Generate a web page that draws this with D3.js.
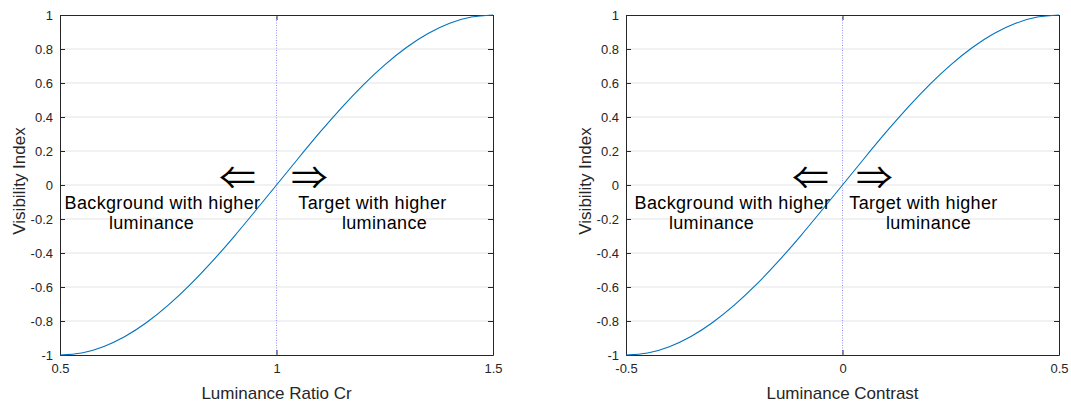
<!DOCTYPE html>
<html>
<head>
<meta charset="utf-8">
<script src="https://cdn.jsdelivr.net/npm/d3@7"></script>
<style>
	body { margin: 0; background: #fff; }
	svg { display: block; font-family: "Liberation Sans", Arial, sans-serif; }
	.tick text { fill: #262626; font-size: 13px; font-family: "Liberation Sans", Arial, sans-serif; }
	.axis path, .axis line { stroke: #262626; }
	.note { font-size: 18px; fill: #000; letter-spacing: 0.35px; }
	.arrow { font-size: 32px; fill: #000; font-family: "Noto Sans CJK JP", sans-serif; }
	.axis-label { font-size: 17px; fill: #262626; }
</style>
</head>
<body>
<svg width="1071" height="405"></svg>
<script>
// curve, 0.05 steps across the x range
const offsets = [-0.5, -0.45, -0.4, -0.35, -0.3, -0.25, -0.2, -0.15, -0.1, -0.05, 0,
	0.05, 0.1, 0.15, 0.2, 0.25, 0.3, 0.35, 0.4, 0.45, 0.5];
const visibility = [-1, -0.988, -0.951, -0.891, -0.809, -0.707, -0.588, -0.454, -0.309, -0.156, 0,
	0.156, 0.309, 0.454, 0.588, 0.707, 0.809, 0.891, 0.951, 0.988, 1];

const yTicks = [-1, -0.8, -0.6, -0.4, -0.2, 0, 0.2, 0.4, 0.6, 0.8, 1];
const leftTicks = [0.5, 1, 1.5];
const rightTicks = [-0.5, 0, 0.5];
const xLabels = ["Luminance Ratio Cr", "Luminance Contrast"];
const bgText = ["Background with higher", "luminance"];
const tgText = ["Target with higher", "luminance"];

// per panel layout: offsets of the notes from the divider line
const panels = [
	{ left: 60, centre: 1, xTicks: leftTicks, xLabel: xLabels[0],
		arrows: [-39, 33], bg: [-114, -125], tg: [96, 108] },
	{ left: 626, centre: 0, xTicks: rightTicks, xLabel: xLabels[1],
		arrows: [-32, 32], bg: [-110, -131], tg: [81, 86] }
];

const svg = d3.select("svg");
const width = 433, height = 340, marginTop = 15;

panels.forEach(p => {
	const data = offsets.map((o, k) => ({ x: p.centre + o, y: visibility[k] }));
	const x = d3.scaleLinear([p.centre - 0.5, p.centre + 0.5], [0, width]);
	const y = d3.scaleLinear([-1, 1], [height, 0]);

	const g = svg.append("g").attr("transform", `translate(${p.left},${marginTop})`);

	// grid
	g.append("g").selectAll("line")
		.data(yTicks.slice(1, -1))
		.join("line")
		.attr("x1", 0).attr("x2", width)
		.attr("y1", d => y(d)).attr("y2", d => y(d))
		.attr("stroke", "#e3e3e3");

	// dotted divider
	g.append("line")
		.attr("x1", x(p.centre)).attr("x2", x(p.centre))
		.attr("y1", 0).attr("y2", height)
		.attr("stroke", "#7b7bff")
		.attr("stroke-width", 0.8)
		.attr("stroke-dasharray", "1,1.5");

	const fmt = d => String(d);

	g.append("g").attr("class", "axis")
		.attr("transform", `translate(0,${height})`)
		.call(d3.axisBottom(x).tickValues(p.xTicks).tickSize(-5).tickPadding(9).tickFormat(fmt).tickSizeOuter(0));
	g.append("g").attr("class", "axis")
		.call(d3.axisTop(x).tickValues(p.xTicks).tickSize(-5).tickFormat("").tickSizeOuter(0));
	g.append("g").attr("class", "axis")
		.call(d3.axisLeft(y).tickValues(yTicks).tickSize(-5).tickPadding(7).tickFormat(fmt).tickSizeOuter(0));
	g.append("g").attr("class", "axis")
		.attr("transform", `translate(${width},0)`)
		.call(d3.axisRight(y).tickValues(yTicks).tickSize(-5).tickFormat("").tickSizeOuter(0));

	g.append("path")
		.attr("fill", "none")
		.attr("stroke", "#0072bd")
		.attr("stroke-width", 1.1)
		.attr("d", d3.line().curve(d3.curveNatural).x(d => x(d.x)).y(d => y(d.y))(data));

	// arrows
	const cx = x(p.centre);
	["\u21D0", "\u21D2"].forEach((ch, k) => {
		g.append("text").attr("class", "arrow").attr("text-anchor", "middle")
			.attr("dominant-baseline", "central")
			.attr("transform", `translate(${cx + p.arrows[k]},${y(0.059)}) scale(1.15,1)`)
			.text(ch);
	});

	// notes
	g.append("text").attr("class", "note").attr("text-anchor", "middle")
		.attr("x", cx + p.bg[0]).attr("y", y(-0.14)).text(bgText[0]);
	g.append("text").attr("class", "note").attr("text-anchor", "middle")
		.attr("x", cx + p.bg[1]).attr("y", y(-0.26)).text(bgText[1]);
	g.append("text").attr("class", "note").attr("text-anchor", "middle")
		.attr("x", cx + p.tg[0]).attr("y", y(-0.14)).text(tgText[0]);
	g.append("text").attr("class", "note").attr("text-anchor", "middle")
		.attr("x", cx + p.tg[1]).attr("y", y(-0.26)).text(tgText[1]);

	g.append("text").attr("class", "axis-label").attr("text-anchor", "middle")
		.attr("x", width / 2).attr("y", height + 44)
		.text(p.xLabel);
	g.append("text").attr("class", "axis-label").attr("text-anchor", "middle")
		.attr("transform", `translate(-35,${height / 2 - 4}) rotate(-90)`)
		.text("Visibility Index");
});
</script>
</body>
</html>
